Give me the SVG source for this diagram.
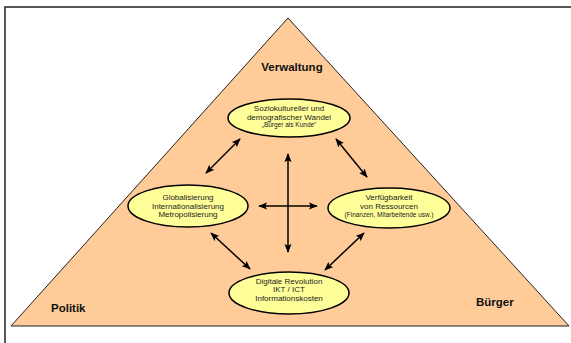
<svg xmlns="http://www.w3.org/2000/svg" width="571" height="343" viewBox="0 0 571 343">
<style>
.frame{fill:none;stroke:#222;stroke-width:1.5}
.tri{fill:#FFCC99;stroke:#222;stroke-width:1}
.ell{fill:#FFFF99;stroke:#000;stroke-width:1.5}
.t{font-family:"Liberation Sans",Arial,sans-serif;font-size:8px;fill:#222;text-anchor:middle}
.s{font-size:6.5px}
.lbl{font-family:"Liberation Sans",Arial,sans-serif;font-size:11.5px;font-weight:bold;fill:#111}
.arr{stroke:#000;stroke-width:1.5;fill:none;marker-start:url(#ah);marker-end:url(#ah)}
</style>
<defs>
<marker id="ah" viewBox="0 0 10 8" refX="9" refY="4" markerWidth="6" markerHeight="5" orient="auto-start-reverse" markerUnits="strokeWidth">
<path d="M0,0 L10,4 L0,8 L2,4 Z" fill="#000"/>
</marker>
</defs>
<rect width="571" height="343" fill="#fff"/>
<path class="frame" d="M5,343 V7 H571"/>
<g id="triangle">
<polygon class="tri" points="288,18 11,326 569,326"/>
<text class="lbl" x="292" y="71" text-anchor="middle">Verwaltung</text>
<text class="lbl" x="51" y="312">Politik</text>
<text class="lbl" x="476" y="306">Bürger</text>
</g>
<g id="connectors">
<line class="arr" x1="206" y1="173" x2="240" y2="139"/>
<line class="arr" x1="336" y1="139" x2="367" y2="177"/>
<line class="arr" x1="288" y1="154" x2="288" y2="252"/>
<line class="arr" x1="259" y1="206" x2="317" y2="206"/>
<line class="arr" x1="211" y1="233" x2="250" y2="269"/>
<line class="arr" x1="364" y1="233" x2="325" y2="270"/>
</g>
<g id="n-sozio">
<ellipse class="ell" cx="289" cy="118" rx="61" ry="19"/>
<text class="t" x="289" y="111">Soziokultureller und</text>
<text class="t" x="289" y="120">demografischer Wandel</text>
<text class="t s" x="289" y="127">„Bürger als Kunde“</text>
</g>
<g id="n-global">
<ellipse class="ell" cx="188" cy="206" rx="60" ry="21"/>
<text class="t" x="188" y="200">Globalisierung</text>
<text class="t" x="188" y="209">Internationalisierung</text>
<text class="t" x="188" y="217">Metropolisierung</text>
</g>
<g id="n-ressourcen">
<ellipse class="ell" cx="389" cy="208" rx="61" ry="20"/>
<text class="t" x="389" y="200">Verfügbarkeit</text>
<text class="t" x="389" y="209">von Ressourcen</text>
<text class="t s" x="389" y="217">(Finanzen, Mitarbeitende usw.)</text>
</g>
<g id="n-digital">
<ellipse class="ell" cx="289" cy="293" rx="60" ry="21"/>
<text class="t" x="289" y="284">Digitale Revolution</text>
<text class="t" x="289" y="292">IKT / ICT</text>
<text class="t" x="289" y="301">Informationskosten</text>
</g>
</svg>
